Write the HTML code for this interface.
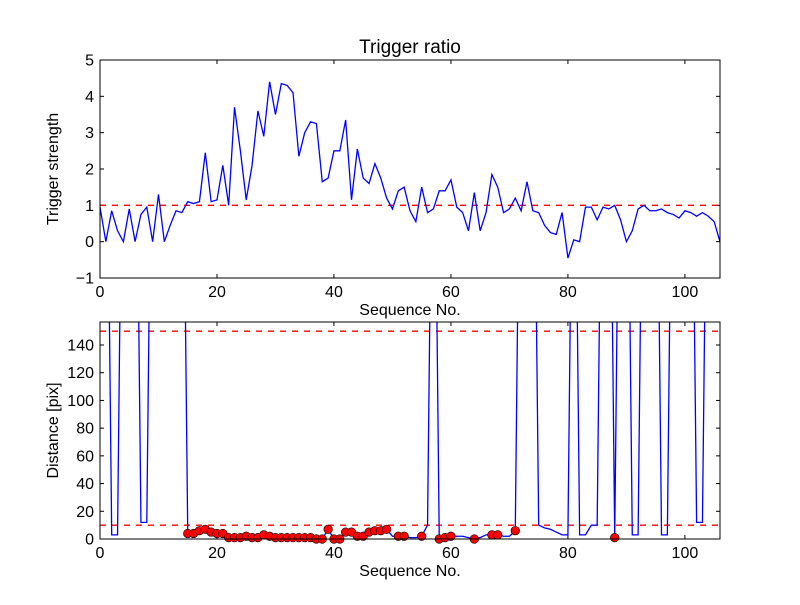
<!DOCTYPE html>
<html><head><meta charset="utf-8"><style>
body{margin:0;background:#fff}
svg text{font-family:"Liberation Sans",sans-serif;fill:#000}
</style></head><body>
<svg id="c" width="800" height="600" xmlns="http://www.w3.org/2000/svg">
<rect width="800" height="600" fill="#fff"/>
<defs>
<clipPath id="cp1"><rect x="100" y="60" width="620" height="218"/></clipPath>
<clipPath id="cp2"><rect x="100" y="322" width="620" height="217"/></clipPath>
</defs>
<g id="g1"></g><g id="g2"></g>
</svg>
<script>
const trigger=[0.95,0,0.85,0.3,0,0.9,0,0.75,0.95,0,1.3,0,0.45,0.85,0.8,1.1,1.05,1.1,2.45,1.1,1.15,2.1,1.0,3.7,2.5,1.15,2.1,3.6,2.9,4.4,3.5,4.35,4.3,4.1,2.35,3.0,3.3,3.25,1.65,1.75,2.5,2.5,3.35,1.15,2.55,1.75,1.6,2.15,1.75,1.2,0.9,1.4,1.5,0.85,0.55,1.5,0.8,0.9,1.4,1.4,1.7,0.95,0.8,0.3,1.35,0.3,0.8,1.85,1.5,0.8,0.9,1.2,0.85,1.65,0.85,0.8,0.45,0.25,0.2,0.8,-0.45,0.05,0,0.95,0.95,0.6,0.95,0.9,1.0,0.6,0,0.3,0.9,1.0,0.85,0.85,0.9,0.8,0.75,0.65,0.85,0.8,0.7,0.8,0.7,0.55,0];
const distance=[400,400,3,3,400,400,400,12,12,400,400,400,400,400,400,4,4,6,7,5,4,4,1,1,1,2,1,1,3,2,1,1,1,1,1,1,1,0,0,7,0,0,5,5,2,2,5,6,6,7,2,2,2,1,1,2,10,400,0,1,2,2,2,1,0,1,3,3,3,2,2,6,400,400,400,10,8,7,5,3,3,400,3,3,10,10,400,400,1,400,400,3,3,400,400,400,3,3,400,400,400,400,12,12,400,400,400];
const markerIdx=[15,16,17,18,19,20,21,22,23,24,25,26,27,28,29,30,31,32,33,34,35,36,37,38,39,40,41,42,43,44,45,46,47,48,49,51,52,55,58,59,60,64,67,68,71,88];
const topYTicks=[-1,0,1,2,3,4,5];
const botYTicks=[0,20,40,60,80,100,120,140];
const xTicks=[0,20,40,60,80,100];
const threshTop=[1];
const threshBot=[10,150];
const NS="http://www.w3.org/2000/svg";
function mk(p,t,a,txt){const e=document.createElementNS(NS,t);for(const k in a)e.setAttribute(k,a[k]);if(txt!==undefined)e.textContent=txt;p.appendChild(e);return e;}
const X0=100,X1=720,XMAX=106;
const sx=v=>X0+v*(X1-X0)/XMAX;
function axes(g,top,bot,ymin,ymax,yt,ylabel,title){
  const sy=v=>bot-(v-ymin)*(bot-top)/(ymax-ymin);
  xTicks.forEach(t=>{const x=sx(t);
    mk(g,'line',{x1:x,x2:x,y1:bot,y2:bot-4,stroke:'#000'});mk(g,'line',{x1:x,x2:x,y1:top,y2:top+4,stroke:'#000'});
    const tx=mk(g,'text',{x:x,y:bot+19,'text-anchor':'middle','font-size':'16'},String(t));
    
    });
  yt.forEach(t=>{const y=sy(t);
    mk(g,'line',{x1:X0,x2:X0+4,y1:y,y2:y,stroke:'#000'});mk(g,'line',{x1:X1,x2:X1-4,y1:y,y2:y,stroke:'#000'});
    const tx=mk(g,'text',{x:X0-6,y:y+5.5,'text-anchor':'end','font-size':'16'},t<0?'\u2212'+(-t):String(t));
    
    });
  const xl=mk(g,'text',{x:410,y:bot+37,'text-anchor':'middle','font-size':'16'},'Sequence No.');
  
  
  const yl=mk(g,'text',{x:0,y:0,'text-anchor':'middle','font-size':'16',transform:`translate(58,${(top+bot)/2}) rotate(-90)`},ylabel);
  
  
  if(title){const tt=mk(g,'text',{x:410,y:top-7,'text-anchor':'middle','font-size':'19'},title);
    
    }
  return sy;
}
const g1=document.getElementById('g1');
const sy1=axes(g1,60,278,-1,5,topYTicks,'Trigger strength','Trigger ratio');
const c1=mk(g1,'g',{'clip-path':'url(#cp1)'});
threshTop.forEach(v=>{const l=mk(c1,'line',{x1:X0,x2:X1,y1:sy1(v),y2:sy1(v),stroke:'#f00','stroke-width':'1.4','stroke-dasharray':'6,6'});
  
  });
const p1=mk(c1,'polyline',{points:trigger.map((v,i)=>sx(i)+','+sy1(v)).join(' '),fill:'none',stroke:'#00f','stroke-width':'1.3'});


const f1=mk(g1,'rect',{x:X0,y:60,width:620,height:218,fill:'none',stroke:'#000'});


const g2=document.getElementById('g2');
const sy2=axes(g2,322,539,0,156.6,botYTicks,'Distance [pix]',null);
const c2=mk(g2,'g',{'clip-path':'url(#cp2)'});
threshBot.forEach(v=>{const l=mk(c2,'line',{x1:X0,x2:X1,y1:sy2(v),y2:sy2(v),stroke:'#f00','stroke-width':'1.4','stroke-dasharray':'6,6'});
  
  });
const p2=mk(c2,'polyline',{points:distance.map((v,i)=>sx(i)+','+sy2(v)).join(' '),fill:'none',stroke:'#00f','stroke-width':'1.3'});


markerIdx.forEach(i=>{const c=mk(g2,'circle',{cx:sx(i),cy:sy2(distance[i]),r:4.3,fill:'#f00',stroke:'#000','stroke-width':'0.6'});
  
  });
const f2=mk(g2,'rect',{x:X0,y:322,width:620,height:217,fill:'none',stroke:'#000'});


</script>
</body></html>
